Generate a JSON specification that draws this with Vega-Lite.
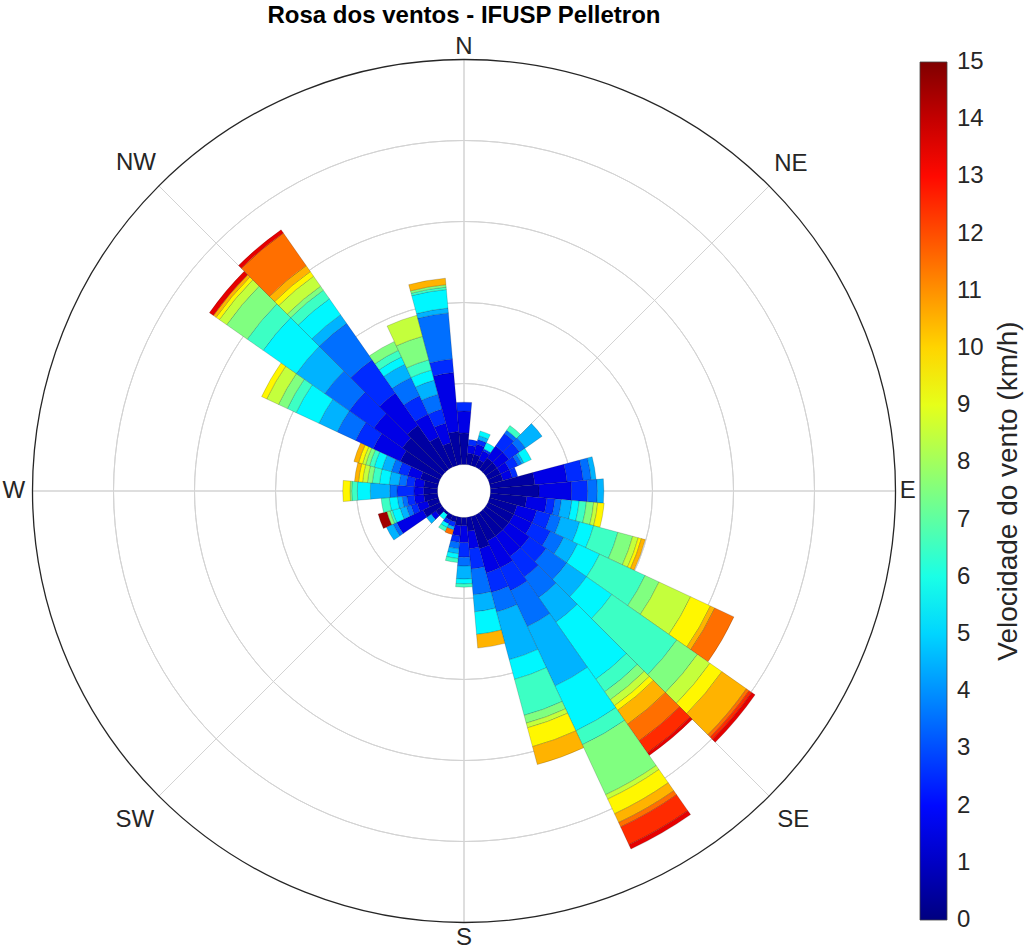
{
  "$schema": "https://vega.github.io/schema/vega-lite/v6.json",
  "width": 928,
  "height": 862,
  "autosize": {"type": "none"},
  "padding": {"left": 0, "top": 60, "right": 96, "bottom": 29},
  "background": "white",
  "title": {"text": "Rosa dos ventos - IFUSP Pelletron", "font": "Liberation Sans", "fontSize": 24, "fontWeight": "bold", "color": "#000000", "anchor": "middle", "frame": "group", "offset": 7},
  "config": {"view": {"stroke": null}, "font": "Liberation Sans"},
  "datasets": {
    "rings": [{"k": 1}, {"k": 2}, {"k": 3}, {"k": 4}],
    "outer": [{"k": 5}],
    "spokes": [{"ang": 0}, {"ang": 45}, {"ang": 90}, {"ang": 135}, {"ang": 180}, {"ang": 225}, {"ang": 270}, {"ang": 315}],
    "labels": [
      {"t": "N", "ang": 0, "u": 5.15},
      {"t": "NE", "ang": 45, "u": 5.38},
      {"t": "E", "ang": 90, "u": 5.15},
      {"t": "SE", "ang": 135, "u": 5.42},
      {"t": "S", "ang": 180, "u": 5.19},
      {"t": "SW", "ang": 225, "u": 5.42},
      {"t": "W", "ang": 270, "u": 5.23},
      {"t": "NW", "ang": 315, "u": 5.40}
    ],
    "bars": [
      {"d0": -5, "d1": 5, "a": 0, "b": 0.39, "s": 0.5},
      {"d0": -5, "d1": 5, "a": 0.39, "b": 0.66, "s": 1.5},
      {"d0": -5, "d1": 5, "a": 0.66, "b": 0.77, "s": 2.5},

      {"d0": 5, "d1": 15, "a": 0, "b": 0.14, "s": 0.5},
      {"d0": 5, "d1": 15, "a": 0.14, "b": 0.24, "s": 1.5},
      {"d0": 5, "d1": 15, "a": 0.24, "b": 0.31, "s": 2.5},

      {"d0": 15, "d1": 25, "a": 0, "b": 0.14, "s": 0.5},
      {"d0": 15, "d1": 25, "a": 0.14, "b": 0.27, "s": 1.5},
      {"d0": 15, "d1": 25, "a": 0.27, "b": 0.33, "s": 2.5},
      {"d0": 15, "d1": 25, "a": 0.33, "b": 0.38, "s": 4.5},
      {"d0": 15, "d1": 25, "a": 0.38, "b": 0.44, "s": 5.5},

      {"d0": 25, "d1": 35, "a": 0, "b": 0.10, "s": 0.5},
      {"d0": 25, "d1": 35, "a": 0.10, "b": 0.22, "s": 1.5},
      {"d0": 25, "d1": 35, "a": 0.22, "b": 0.25, "s": 2.5},
      {"d0": 25, "d1": 35, "a": 0.25, "b": 0.33, "s": 5.5},

      {"d0": 35, "d1": 45, "a": 0, "b": 0.17, "s": 0.5},
      {"d0": 35, "d1": 45, "a": 0.17, "b": 0.35, "s": 1.5},
      {"d0": 35, "d1": 45, "a": 0.35, "b": 0.54, "s": 2.5},
      {"d0": 35, "d1": 45, "a": 0.54, "b": 0.59, "s": 3.5},
      {"d0": 35, "d1": 45, "a": 0.59, "b": 0.66, "s": 6.5},

      {"d0": 45, "d1": 55, "a": 0, "b": 0.17, "s": 0.5},
      {"d0": 45, "d1": 55, "a": 0.17, "b": 0.35, "s": 1.5},
      {"d0": 45, "d1": 55, "a": 0.35, "b": 0.51, "s": 2.5},
      {"d0": 45, "d1": 55, "a": 0.51, "b": 0.60, "s": 3.5},
      {"d0": 45, "d1": 55, "a": 0.60, "b": 0.85, "s": 4.5},

      {"d0": 55, "d1": 65, "a": 0, "b": 0.17, "s": 0.5},
      {"d0": 55, "d1": 65, "a": 0.17, "b": 0.29, "s": 1.5},
      {"d0": 55, "d1": 65, "a": 0.29, "b": 0.41, "s": 2.5},
      {"d0": 55, "d1": 65, "a": 0.41, "b": 0.46, "s": 3.5},
      {"d0": 55, "d1": 65, "a": 0.46, "b": 0.49, "s": 4.5},
      {"d0": 55, "d1": 65, "a": 0.49, "b": 0.59, "s": 5.5},

      {"d0": 65, "d1": 75, "a": 0, "b": 0.17, "s": 0.5},
      {"d0": 65, "d1": 75, "a": 0.17, "b": 0.29, "s": 1.5},
      {"d0": 65, "d1": 75, "a": 0.29, "b": 0.36, "s": 2.5},

      {"d0": 75, "d1": 85, "a": 0, "b": 0.55, "s": 0.5},
      {"d0": 75, "d1": 85, "a": 0.55, "b": 0.95, "s": 1.5},
      {"d0": 75, "d1": 85, "a": 0.95, "b": 1.15, "s": 2.5},
      {"d0": 75, "d1": 85, "a": 1.15, "b": 1.25, "s": 3.5},
      {"d0": 75, "d1": 85, "a": 1.25, "b": 1.31, "s": 4.5},

      {"d0": 85, "d1": 95, "a": 0, "b": 0.60, "s": 0.5},
      {"d0": 85, "d1": 95, "a": 0.60, "b": 1.00, "s": 1.5},
      {"d0": 85, "d1": 95, "a": 1.00, "b": 1.20, "s": 2.5},
      {"d0": 85, "d1": 95, "a": 1.20, "b": 1.32, "s": 3.5},
      {"d0": 85, "d1": 95, "a": 1.32, "b": 1.40, "s": 4.5},

      {"d0": 95, "d1": 105, "a": 0, "b": 0.45, "s": 0.5},
      {"d0": 95, "d1": 105, "a": 0.45, "b": 0.70, "s": 1.5},
      {"d0": 95, "d1": 105, "a": 0.70, "b": 0.80, "s": 2.5},
      {"d0": 95, "d1": 105, "a": 0.80, "b": 0.88, "s": 3.5},
      {"d0": 95, "d1": 105, "a": 0.88, "b": 1.01, "s": 4.5},
      {"d0": 95, "d1": 105, "a": 1.01, "b": 1.10, "s": 5.5},
      {"d0": 95, "d1": 105, "a": 1.10, "b": 1.19, "s": 6.5},
      {"d0": 95, "d1": 105, "a": 1.19, "b": 1.28, "s": 7.5},
      {"d0": 95, "d1": 105, "a": 1.28, "b": 1.33, "s": 8.5},
      {"d0": 95, "d1": 105, "a": 1.33, "b": 1.41, "s": 9.5},

      {"d0": 105, "d1": 115, "a": 0, "b": 0.35, "s": 0.5},
      {"d0": 105, "d1": 115, "a": 0.35, "b": 0.60, "s": 1.5},
      {"d0": 105, "d1": 115, "a": 0.60, "b": 0.78, "s": 2.5},
      {"d0": 105, "d1": 115, "a": 0.78, "b": 0.91, "s": 3.5},
      {"d0": 105, "d1": 115, "a": 0.91, "b": 1.15, "s": 4.5},
      {"d0": 105, "d1": 115, "a": 1.15, "b": 1.33, "s": 5.5},
      {"d0": 105, "d1": 115, "a": 1.33, "b": 1.64, "s": 6.5},
      {"d0": 105, "d1": 115, "a": 1.64, "b": 1.83, "s": 7.5},
      {"d0": 105, "d1": 115, "a": 1.83, "b": 1.90, "s": 8.5},
      {"d0": 105, "d1": 115, "a": 1.90, "b": 1.94, "s": 9.5},
      {"d0": 105, "d1": 115, "a": 1.94, "b": 1.99, "s": 10.5},

      {"d0": 115, "d1": 125, "a": 0, "b": 0.35, "s": 0.5},
      {"d0": 115, "d1": 125, "a": 0.35, "b": 0.60, "s": 1.5},
      {"d0": 115, "d1": 125, "a": 0.60, "b": 0.85, "s": 2.5},
      {"d0": 115, "d1": 125, "a": 0.85, "b": 1.03, "s": 3.5},
      {"d0": 115, "d1": 125, "a": 1.03, "b": 1.22, "s": 4.5},
      {"d0": 115, "d1": 125, "a": 1.22, "b": 1.52, "s": 5.5},
      {"d0": 115, "d1": 125, "a": 1.52, "b": 2.14, "s": 6.5},
      {"d0": 115, "d1": 125, "a": 2.14, "b": 2.33, "s": 7.5},
      {"d0": 115, "d1": 125, "a": 2.33, "b": 2.76, "s": 8.5},
      {"d0": 115, "d1": 125, "a": 2.76, "b": 3.03, "s": 9.5},
      {"d0": 115, "d1": 125, "a": 3.03, "b": 3.09, "s": 10.5},
      {"d0": 115, "d1": 125, "a": 3.09, "b": 3.35, "s": 11.5},

      {"d0": 125, "d1": 135, "a": 0, "b": 0.35, "s": 0.5},
      {"d0": 125, "d1": 135, "a": 0.35, "b": 0.66, "s": 1.5},
      {"d0": 125, "d1": 135, "a": 0.66, "b": 0.91, "s": 2.5},
      {"d0": 125, "d1": 135, "a": 0.91, "b": 1.22, "s": 3.5},
      {"d0": 125, "d1": 135, "a": 1.22, "b": 1.52, "s": 4.5},
      {"d0": 125, "d1": 135, "a": 1.52, "b": 1.90, "s": 5.5},
      {"d0": 125, "d1": 135, "a": 1.90, "b": 2.88, "s": 6.5},
      {"d0": 125, "d1": 135, "a": 2.88, "b": 3.19, "s": 7.5},
      {"d0": 125, "d1": 135, "a": 3.19, "b": 3.38, "s": 8.5},
      {"d0": 125, "d1": 135, "a": 3.38, "b": 3.56, "s": 9.5},
      {"d0": 125, "d1": 135, "a": 3.56, "b": 3.93, "s": 10.5},
      {"d0": 125, "d1": 135, "a": 3.93, "b": 3.97, "s": 11.5},
      {"d0": 125, "d1": 135, "a": 3.97, "b": 4.01, "s": 12.5},
      {"d0": 125, "d1": 135, "a": 4.01, "b": 4.06, "s": 13.5},

      {"d0": 135, "d1": 145, "a": 0, "b": 0.35, "s": 0.5},
      {"d0": 135, "d1": 145, "a": 0.35, "b": 0.66, "s": 1.5},
      {"d0": 135, "d1": 145, "a": 0.66, "b": 0.97, "s": 2.5},
      {"d0": 135, "d1": 145, "a": 0.97, "b": 1.28, "s": 3.5},
      {"d0": 135, "d1": 145, "a": 1.28, "b": 1.65, "s": 4.5},
      {"d0": 135, "d1": 145, "a": 1.65, "b": 2.51, "s": 5.5},
      {"d0": 135, "d1": 145, "a": 2.51, "b": 2.70, "s": 6.5},
      {"d0": 135, "d1": 145, "a": 2.70, "b": 2.82, "s": 7.5},
      {"d0": 135, "d1": 145, "a": 2.82, "b": 2.91, "s": 8.5},
      {"d0": 135, "d1": 145, "a": 2.91, "b": 2.98, "s": 9.5},
      {"d0": 135, "d1": 145, "a": 2.98, "b": 3.19, "s": 10.5},
      {"d0": 135, "d1": 145, "a": 3.19, "b": 3.44, "s": 11.5},
      {"d0": 135, "d1": 145, "a": 3.44, "b": 3.62, "s": 12.5},
      {"d0": 135, "d1": 145, "a": 3.62, "b": 3.66, "s": 13.5},

      {"d0": 145, "d1": 155, "a": 0, "b": 0.35, "s": 0.5},
      {"d0": 145, "d1": 155, "a": 0.35, "b": 0.72, "s": 1.5},
      {"d0": 145, "d1": 155, "a": 0.72, "b": 1.03, "s": 2.5},
      {"d0": 145, "d1": 155, "a": 1.03, "b": 1.52, "s": 3.5},
      {"d0": 145, "d1": 155, "a": 1.52, "b": 2.33, "s": 4.5},
      {"d0": 145, "d1": 155, "a": 2.33, "b": 2.94, "s": 5.5},
      {"d0": 145, "d1": 155, "a": 2.94, "b": 3.13, "s": 6.5},
      {"d0": 145, "d1": 155, "a": 3.13, "b": 3.81, "s": 7.5},
      {"d0": 145, "d1": 155, "a": 3.81, "b": 3.87, "s": 8.5},
      {"d0": 145, "d1": 155, "a": 3.87, "b": 4.07, "s": 9.5},
      {"d0": 145, "d1": 155, "a": 4.07, "b": 4.19, "s": 10.5},
      {"d0": 145, "d1": 155, "a": 4.19, "b": 4.25, "s": 11.5},
      {"d0": 145, "d1": 155, "a": 4.25, "b": 4.49, "s": 12.5},
      {"d0": 145, "d1": 155, "a": 4.49, "b": 4.55, "s": 13.5},

      {"d0": 155, "d1": 165, "a": 0, "b": 0.41, "s": 0.5},
      {"d0": 155, "d1": 165, "a": 0.41, "b": 0.72, "s": 1.5},
      {"d0": 155, "d1": 165, "a": 0.72, "b": 0.97, "s": 2.5},
      {"d0": 155, "d1": 165, "a": 0.97, "b": 1.22, "s": 3.5},
      {"d0": 155, "d1": 165, "a": 1.22, "b": 1.83, "s": 4.5},
      {"d0": 155, "d1": 165, "a": 1.83, "b": 2.08, "s": 5.5},
      {"d0": 155, "d1": 165, "a": 2.08, "b": 2.54, "s": 6.5},
      {"d0": 155, "d1": 165, "a": 2.54, "b": 2.64, "s": 7.5},
      {"d0": 155, "d1": 165, "a": 2.64, "b": 2.70, "s": 8.5},
      {"d0": 155, "d1": 165, "a": 2.70, "b": 2.94, "s": 9.5},
      {"d0": 155, "d1": 165, "a": 2.94, "b": 3.17, "s": 10.5},

      {"d0": 165, "d1": 175, "a": 0, "b": 0.17, "s": 0.5},
      {"d0": 165, "d1": 175, "a": 0.17, "b": 0.39, "s": 1.5},
      {"d0": 165, "d1": 175, "a": 0.39, "b": 0.64, "s": 2.5},
      {"d0": 165, "d1": 175, "a": 0.64, "b": 0.96, "s": 3.5},
      {"d0": 165, "d1": 175, "a": 0.96, "b": 1.17, "s": 4.5},
      {"d0": 165, "d1": 175, "a": 1.17, "b": 1.45, "s": 5.5},
      {"d0": 165, "d1": 175, "a": 1.45, "b": 1.62, "s": 10.5},

      {"d0": 175, "d1": 185, "a": 0, "b": 0.10, "s": 0.5},
      {"d0": 175, "d1": 185, "a": 0.10, "b": 0.31, "s": 1.5},
      {"d0": 175, "d1": 185, "a": 0.31, "b": 0.49, "s": 2.5},
      {"d0": 175, "d1": 185, "a": 0.49, "b": 0.60, "s": 3.5},
      {"d0": 175, "d1": 185, "a": 0.60, "b": 0.76, "s": 4.5},
      {"d0": 175, "d1": 185, "a": 0.76, "b": 0.82, "s": 5.5},
      {"d0": 175, "d1": 185, "a": 0.82, "b": 0.86, "s": 6.5},

      {"d0": 185, "d1": 195, "a": 0, "b": 0.10, "s": 0.5},
      {"d0": 185, "d1": 195, "a": 0.10, "b": 0.23, "s": 1.5},
      {"d0": 185, "d1": 195, "a": 0.23, "b": 0.31, "s": 2.5},
      {"d0": 185, "d1": 195, "a": 0.31, "b": 0.39, "s": 3.5},
      {"d0": 185, "d1": 195, "a": 0.39, "b": 0.45, "s": 4.5},
      {"d0": 185, "d1": 195, "a": 0.45, "b": 0.51, "s": 5.5},
      {"d0": 185, "d1": 195, "a": 0.51, "b": 0.56, "s": 6.5},

      {"d0": 195, "d1": 205, "a": 0, "b": 0.07, "s": 0.5},
      {"d0": 195, "d1": 205, "a": 0.07, "b": 0.13, "s": 2.5},
      {"d0": 195, "d1": 205, "a": 0.13, "b": 0.17, "s": 4.5},
      {"d0": 195, "d1": 205, "a": 0.17, "b": 0.23, "s": 11.5},

      {"d0": 205, "d1": 215, "a": 0, "b": 0.07, "s": 0.5},
      {"d0": 205, "d1": 215, "a": 0.07, "b": 0.12, "s": 2.5},
      {"d0": 205, "d1": 215, "a": 0.12, "b": 0.17, "s": 5.5},
      {"d0": 205, "d1": 215, "a": 0.17, "b": 0.22, "s": 6.5},

      {"d0": 215, "d1": 225, "a": 0, "b": 0.03, "s": 0.5},
      {"d0": 215, "d1": 225, "a": 0.03, "b": 0.10, "s": 5.5},

      {"d0": 225, "d1": 235, "a": 0, "b": 0.10, "s": 0.5},
      {"d0": 225, "d1": 235, "a": 0.10, "b": 0.17, "s": 1.5},
      {"d0": 225, "d1": 235, "a": 0.17, "b": 0.24, "s": 4.5},

      {"d0": 235, "d1": 245, "a": 0, "b": 0.23, "s": 0.5},
      {"d0": 235, "d1": 245, "a": 0.23, "b": 0.59, "s": 1.5},
      {"d0": 235, "d1": 245, "a": 0.59, "b": 0.64, "s": 3.5},
      {"d0": 235, "d1": 245, "a": 0.64, "b": 0.73, "s": 4.5},

      {"d0": 245, "d1": 255, "a": 0, "b": 0.14, "s": 0.5},
      {"d0": 245, "d1": 255, "a": 0.14, "b": 0.27, "s": 1.5},
      {"d0": 245, "d1": 255, "a": 0.27, "b": 0.35, "s": 2.5},
      {"d0": 245, "d1": 255, "a": 0.35, "b": 0.41, "s": 3.5},
      {"d0": 245, "d1": 255, "a": 0.41, "b": 0.49, "s": 4.5},
      {"d0": 245, "d1": 255, "a": 0.49, "b": 0.59, "s": 5.5},
      {"d0": 245, "d1": 255, "a": 0.59, "b": 0.62, "s": 6.5},
      {"d0": 245, "d1": 255, "a": 0.62, "b": 0.66, "s": 7.5},
      {"d0": 245, "d1": 255, "a": 0.66, "b": 0.77, "s": 14.5},

      {"d0": 255, "d1": 265, "a": 0, "b": 0.17, "s": 0.5},
      {"d0": 255, "d1": 265, "a": 0.17, "b": 0.29, "s": 1.5},
      {"d0": 255, "d1": 265, "a": 0.29, "b": 0.38, "s": 2.5},
      {"d0": 255, "d1": 265, "a": 0.38, "b": 0.44, "s": 3.5},
      {"d0": 255, "d1": 265, "a": 0.44, "b": 0.50, "s": 4.5},
      {"d0": 255, "d1": 265, "a": 0.50, "b": 0.60, "s": 5.5},
      {"d0": 255, "d1": 265, "a": 0.60, "b": 0.70, "s": 6.5},

      {"d0": 265, "d1": 275, "a": 0, "b": 0.17, "s": 0.5},
      {"d0": 265, "d1": 275, "a": 0.17, "b": 0.29, "s": 1.5},
      {"d0": 265, "d1": 275, "a": 0.29, "b": 0.50, "s": 2.5},
      {"d0": 265, "d1": 275, "a": 0.50, "b": 0.59, "s": 3.5},
      {"d0": 265, "d1": 275, "a": 0.59, "b": 0.83, "s": 4.5},
      {"d0": 265, "d1": 275, "a": 0.83, "b": 0.99, "s": 5.5},
      {"d0": 265, "d1": 275, "a": 0.99, "b": 1.06, "s": 6.5},
      {"d0": 265, "d1": 275, "a": 1.06, "b": 1.08, "s": 7.5},
      {"d0": 265, "d1": 275, "a": 1.08, "b": 1.17, "s": 9.5},

      {"d0": 275, "d1": 285, "a": 0, "b": 0.17, "s": 0.5},
      {"d0": 275, "d1": 285, "a": 0.17, "b": 0.29, "s": 1.5},
      {"d0": 275, "d1": 285, "a": 0.29, "b": 0.39, "s": 2.5},
      {"d0": 275, "d1": 285, "a": 0.39, "b": 0.48, "s": 3.5},
      {"d0": 275, "d1": 285, "a": 0.48, "b": 0.60, "s": 4.5},
      {"d0": 275, "d1": 285, "a": 0.60, "b": 0.72, "s": 5.5},
      {"d0": 275, "d1": 285, "a": 0.72, "b": 0.81, "s": 6.5},
      {"d0": 275, "d1": 285, "a": 0.81, "b": 0.87, "s": 7.5},
      {"d0": 275, "d1": 285, "a": 0.87, "b": 0.93, "s": 8.5},
      {"d0": 275, "d1": 285, "a": 0.93, "b": 0.98, "s": 9.5},
      {"d0": 275, "d1": 285, "a": 0.98, "b": 1.03, "s": 10.5},

      {"d0": 285, "d1": 295, "a": 0, "b": 0.23, "s": 0.5},
      {"d0": 285, "d1": 295, "a": 0.23, "b": 0.39, "s": 1.5},
      {"d0": 285, "d1": 295, "a": 0.39, "b": 0.51, "s": 2.5},
      {"d0": 285, "d1": 295, "a": 0.51, "b": 0.60, "s": 3.5},
      {"d0": 285, "d1": 295, "a": 0.60, "b": 0.72, "s": 4.5},
      {"d0": 285, "d1": 295, "a": 0.72, "b": 0.82, "s": 5.5},
      {"d0": 285, "d1": 295, "a": 0.82, "b": 0.88, "s": 6.5},
      {"d0": 285, "d1": 295, "a": 0.88, "b": 0.93, "s": 7.5},
      {"d0": 285, "d1": 295, "a": 0.93, "b": 0.97, "s": 8.5},
      {"d0": 285, "d1": 295, "a": 0.97, "b": 1.02, "s": 9.5},
      {"d0": 285, "d1": 295, "a": 1.02, "b": 1.08, "s": 10.5},

      {"d0": 295, "d1": 305, "a": 0, "b": 0.54, "s": 0.5},
      {"d0": 295, "d1": 305, "a": 0.54, "b": 0.91, "s": 1.5},
      {"d0": 295, "d1": 305, "a": 0.91, "b": 1.15, "s": 2.5},
      {"d0": 295, "d1": 305, "a": 1.15, "b": 1.40, "s": 3.5},
      {"d0": 295, "d1": 305, "a": 1.40, "b": 1.65, "s": 4.5},
      {"d0": 295, "d1": 305, "a": 1.65, "b": 1.96, "s": 5.5},
      {"d0": 295, "d1": 305, "a": 1.96, "b": 2.08, "s": 6.5},
      {"d0": 295, "d1": 305, "a": 2.08, "b": 2.20, "s": 7.5},
      {"d0": 295, "d1": 305, "a": 2.20, "b": 2.36, "s": 8.5},
      {"d0": 295, "d1": 305, "a": 2.36, "b": 2.43, "s": 9.5},

      {"d0": 305, "d1": 315, "a": 0, "b": 0.60, "s": 0.5},
      {"d0": 305, "d1": 315, "a": 0.60, "b": 1.03, "s": 1.5},
      {"d0": 305, "d1": 315, "a": 1.03, "b": 1.40, "s": 2.5},
      {"d0": 305, "d1": 315, "a": 1.40, "b": 1.77, "s": 3.5},
      {"d0": 305, "d1": 315, "a": 1.77, "b": 2.20, "s": 4.5},
      {"d0": 305, "d1": 315, "a": 2.20, "b": 2.70, "s": 5.5},
      {"d0": 305, "d1": 315, "a": 2.70, "b": 2.94, "s": 6.5},
      {"d0": 305, "d1": 315, "a": 2.94, "b": 3.25, "s": 7.5},
      {"d0": 305, "d1": 315, "a": 3.25, "b": 3.36, "s": 8.5},
      {"d0": 305, "d1": 315, "a": 3.36, "b": 3.41, "s": 9.5},
      {"d0": 305, "d1": 315, "a": 3.41, "b": 3.45, "s": 10.5},
      {"d0": 305, "d1": 315, "a": 3.45, "b": 3.51, "s": 13.5},

      {"d0": 315, "d1": 325, "a": 0, "b": 0.66, "s": 0.5},
      {"d0": 315, "d1": 325, "a": 0.66, "b": 1.15, "s": 1.5},
      {"d0": 315, "d1": 325, "a": 1.15, "b": 1.65, "s": 2.5},
      {"d0": 315, "d1": 325, "a": 1.65, "b": 2.20, "s": 3.5},
      {"d0": 315, "d1": 325, "a": 2.20, "b": 2.33, "s": 4.5},
      {"d0": 315, "d1": 325, "a": 2.33, "b": 2.57, "s": 5.5},
      {"d0": 315, "d1": 325, "a": 2.57, "b": 2.70, "s": 6.5},
      {"d0": 315, "d1": 325, "a": 2.70, "b": 2.76, "s": 7.5},
      {"d0": 315, "d1": 325, "a": 2.76, "b": 2.91, "s": 8.5},
      {"d0": 315, "d1": 325, "a": 2.91, "b": 2.98, "s": 9.5},
      {"d0": 315, "d1": 325, "a": 2.98, "b": 3.07, "s": 10.5},
      {"d0": 315, "d1": 325, "a": 3.07, "b": 3.56, "s": 11.5},
      {"d0": 315, "d1": 325, "a": 3.56, "b": 3.61, "s": 13.5},

      {"d0": 325, "d1": 335, "a": 0, "b": 0.41, "s": 0.5},
      {"d0": 325, "d1": 335, "a": 0.41, "b": 0.72, "s": 1.5},
      {"d0": 325, "d1": 335, "a": 0.72, "b": 0.97, "s": 2.5},
      {"d0": 325, "d1": 335, "a": 0.97, "b": 1.22, "s": 3.5},
      {"d0": 325, "d1": 335, "a": 1.22, "b": 1.40, "s": 4.5},
      {"d0": 325, "d1": 335, "a": 1.40, "b": 1.50, "s": 5.5},
      {"d0": 325, "d1": 335, "a": 1.50, "b": 1.59, "s": 6.5},
      {"d0": 325, "d1": 335, "a": 1.59, "b": 1.71, "s": 7.5},

      {"d0": 335, "d1": 345, "a": 0, "b": 0.29, "s": 0.5},
      {"d0": 335, "d1": 345, "a": 0.29, "b": 0.54, "s": 1.5},
      {"d0": 335, "d1": 345, "a": 0.54, "b": 0.72, "s": 2.5},
      {"d0": 335, "d1": 345, "a": 0.72, "b": 0.91, "s": 3.5},
      {"d0": 335, "d1": 345, "a": 0.91, "b": 1.09, "s": 4.5},
      {"d0": 335, "d1": 345, "a": 1.09, "b": 1.22, "s": 5.5},
      {"d0": 335, "d1": 345, "a": 1.22, "b": 1.35, "s": 6.5},
      {"d0": 335, "d1": 345, "a": 1.35, "b": 1.65, "s": 7.5},
      {"d0": 335, "d1": 345, "a": 1.65, "b": 1.92, "s": 8.5},

      {"d0": 345, "d1": 355, "a": 0, "b": 0.41, "s": 0.5},
      {"d0": 345, "d1": 355, "a": 0.41, "b": 1.14, "s": 1.5},
      {"d0": 345, "d1": 355, "a": 1.14, "b": 1.31, "s": 2.5},
      {"d0": 345, "d1": 355, "a": 1.31, "b": 1.88, "s": 3.5},
      {"d0": 345, "d1": 355, "a": 1.88, "b": 1.94, "s": 4.5},
      {"d0": 345, "d1": 355, "a": 1.94, "b": 2.17, "s": 5.5},
      {"d0": 345, "d1": 355, "a": 2.17, "b": 2.20, "s": 6.5},
      {"d0": 345, "d1": 355, "a": 2.20, "b": 2.23, "s": 7.5},
      {"d0": 345, "d1": 355, "a": 2.23, "b": 2.31, "s": 10.5}
    ]
  },
  "layer": [
    {
      "data": {"name": "rings"},
      "mark": {"type": "arc", "filled": false, "stroke": "#d3d3d3", "strokeWidth": 1},
      "encoding": {
        "theta": {"datum": 0, "type": "quantitative", "stack": null, "scale": {"domain": [0, 360], "range": [0, 6.283185307]}},
        "theta2": {"datum": 360},
        "radius": {"field": "k", "type": "quantitative", "stack": null, "scale": {"type": "linear", "zero": false, "domain": [0, 5], "range": [26.5, 431.5]}},
        "radius2": {"field": "k"}
      }
    },
    {
      "data": {"name": "spokes"},
      "mark": {"type": "arc", "filled": false, "stroke": "#d3d3d3", "strokeWidth": 1},
      "encoding": {
        "theta": {"field": "ang", "type": "quantitative", "stack": null, "scale": {"domain": [0, 360], "range": [0, 6.283185307]}},
        "theta2": {"field": "ang"},
        "radius": {"datum": 0, "type": "quantitative", "stack": null, "scale": {"type": "linear", "zero": false, "domain": [0, 5], "range": [26.5, 431.5]}},
        "radius2": {"datum": 5}
      }
    },
    {
      "data": {"name": "bars"},
      "mark": {"type": "arc", "stroke": "#000000", "strokeWidth": 0.7, "strokeOpacity": 0.25},
      "encoding": {
        "theta": {"field": "d0", "type": "quantitative", "stack": null, "scale": {"domain": [0, 360], "range": [0, 6.283185307]}},
        "theta2": {"field": "d1"},
        "radius": {"field": "a", "type": "quantitative", "stack": null, "scale": {"type": "linear", "zero": false, "domain": [0, 5], "range": [26.5, 431.5]}},
        "radius2": {"field": "b"},
        "color": {
          "field": "s",
          "type": "quantitative",
          "scale": {"type": "linear", "domain": [0, 1.875, 5.625, 9.375, 13.125, 15], "range": ["#000080", "#0000ff", "#00ffff", "#ffff00", "#ff0000", "#800000"], "interpolate": "rgb"},
          "legend": {
            "orient": "none",
            "legendX": 920,
            "legendY": 2,
            "direction": "vertical",
            "gradientLength": 858,
            "gradientThickness": 27,
            "gradientStrokeColor": "#444444",
            "gradientStrokeWidth": 0.8,
            "values": [0, 1, 2, 3, 4, 5, 6, 7, 8, 9, 10, 11, 12, 13, 14, 15],
            "labelFont": "Liberation Sans",
            "labelFontSize": 24,
            "labelColor": "#262626",
            "labelOffset": 10,
            "labelOverlap": false,
            "title": "Velocidade do vento (km/h)",
            "titleOrient": "right",
            "titleAnchor": "middle",
            "titleLimit": 1000,
            "titleFont": "Liberation Sans",
            "titleFontSize": 28,
            "titleFontWeight": "normal",
            "titleColor": "#262626",
            "titlePadding": 11,
            "encode": {
              "title": {"update": {"angle": {"value": 270}, "baseline": {"value": "top"}}},
              "labels": {"update": {"baseline": {"value": "middle"}}}
            }
          }
        }
      }
    },
    {
      "data": {"name": "outer"},
      "mark": {"type": "arc", "filled": false, "stroke": "#262626", "strokeWidth": 1.3},
      "encoding": {
        "theta": {"datum": 0, "type": "quantitative", "stack": null, "scale": {"domain": [0, 360], "range": [0, 6.283185307]}},
        "theta2": {"datum": 360},
        "radius": {"field": "k", "type": "quantitative", "stack": null, "scale": {"type": "linear", "zero": false, "domain": [0, 5], "range": [26.5, 431.5]}},
        "radius2": {"field": "k"}
      }
    },
    {
      "data": {"name": "labels"},
      "mark": {"type": "text", "font": "Liberation Sans", "fontSize": 24, "color": "#262626", "align": "center", "baseline": "middle"},
      "encoding": {
        "theta": {"field": "ang", "type": "quantitative", "stack": null, "scale": {"domain": [0, 360], "range": [0, 6.283185307]}},
        "radius": {"field": "u", "type": "quantitative", "stack": null, "scale": {"type": "linear", "zero": false, "domain": [0, 5], "range": [26.5, 431.5]}},
        "text": {"field": "t"}
      }
    }
  ]
}
